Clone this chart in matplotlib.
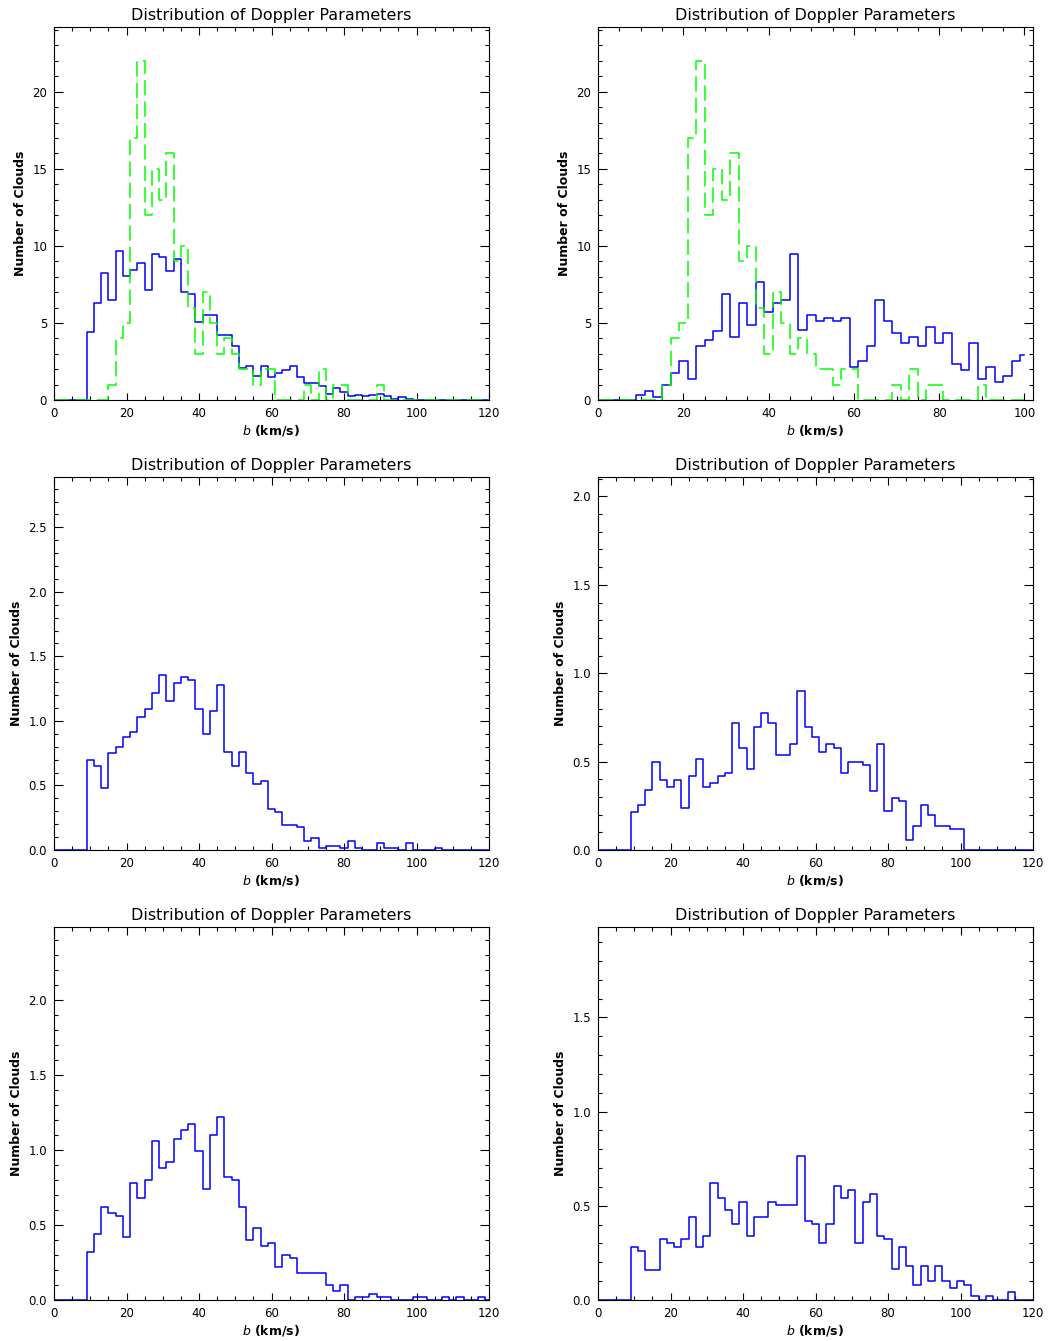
import matplotlib
matplotlib.use("Agg")
import matplotlib.pyplot as plt
import numpy as np
from matplotlib.ticker import MultipleLocator, FormatStrFormatter

# ── Histogram data: bin centres (2 km/s bins) and counts ─────────────
b_wide = np.arange(0, 122, 2)    # 0 .. 120 km/s
b_narrow = np.arange(0, 102, 2)  # 0 .. 100 km/s

# observed sample (dashed green), same in both top panels
obs_counts = [0, 0, 0, 0, 0, 0, 0, 0, 1, 4,
              5, 17, 22, 12, 15, 13, 16, 9, 10, 6,
              3, 7, 5, 3, 4, 3, 2, 2, 1, 2,
              2, 0, 0, 0, 0, 1, 0, 2, 0, 1,
              1, 0, 0, 0, 0, 1, 0, 0, 0, 0,
              0, 0, 0, 0, 0, 0, 0, 0, 0, 0, 0]

# model runs (solid blue)
model_a = [0, 0, 0, 0, 0, 4.44, 6.28, 8.25, 6.52, 9.68,
           8.06, 8.45, 8.88, 7.12, 9.49, 9.27, 8.36, 9.16, 6.99, 6.89,
           5.04, 5.54, 5.54, 4.22, 4.22, 3.51, 2.10, 2.23, 1.54, 2.23,
           1.47, 1.73, 1.93, 2.23, 1.47, 1.10, 1.10, 0.89, 0.39, 0.78,
           0.50, 0.24, 0.31, 0.24, 0.31, 0.39, 0.27, 0.06, 0.20, 0.06,
           0, 0, 0, 0, 0, 0, 0, 0, 0, 0, 0]

model_b = [0, 0, 0, 0, 0, 0.34, 0.56, 0.17, 0.97, 1.75,
           2.53, 1.36, 3.53, 3.92, 4.50, 6.89, 4.11, 6.28, 4.89, 7.67,
           5.69, 6.28, 6.50, 9.44, 4.52, 5.50, 5.11, 5.33, 5.11, 5.33,
           2.12, 2.55, 3.53, 6.50, 5.11, 4.33, 3.72, 4.11, 3.53, 4.72,
           3.72, 4.33, 2.34, 1.95, 3.70, 1.36, 2.14, 1.15, 1.56, 2.55,
           2.94]

model_c = [0, 0, 0, 0, 0, 0.698, 0.653, 0.478, 0.754, 0.795,
           0.873, 0.915, 1.033, 1.095, 1.214, 1.354, 1.155, 1.294, 1.338, 1.315,
           1.095, 0.896, 1.078, 1.276, 0.757, 0.653, 0.757, 0.594, 0.512, 0.537,
           0.318, 0.297, 0.196, 0.196, 0.175, 0.072, 0.093, 0.016, 0.033, 0.033,
           0.016, 0.072, 0.016, 0, 0, 0.054, 0.016, 0.016, 0, 0.054,
           0, 0, 0, 0.016, 0, 0, 0, 0, 0, 0, 0]

model_d = [0, 0, 0, 0, 0, 0.215, 0.256, 0.337, 0.498, 0.398,
           0.357, 0.398, 0.238, 0.417, 0.517, 0.357, 0.377, 0.417, 0.437, 0.717,
           0.577, 0.456, 0.698, 0.777, 0.717, 0.538, 0.538, 0.598, 0.898, 0.698,
           0.637, 0.557, 0.598, 0.579, 0.437, 0.498, 0.498, 0.479, 0.336, 0.598,
           0.218, 0.296, 0.277, 0.057, 0.136, 0.256, 0.196, 0.136, 0.136, 0.117,
           0.117, 0, 0, 0, 0, 0, 0, 0, 0, 0, 0]

model_e = [0, 0, 0, 0, 0, 0.32, 0.44, 0.622, 0.58, 0.56,
           0.42, 0.782, 0.678, 0.80, 1.06, 0.88, 0.92, 1.078, 1.138, 1.178,
           0.998, 0.74, 1.10, 1.22, 0.818, 0.80, 0.62, 0.40, 0.48, 0.36,
           0.382, 0.22, 0.302, 0.28, 0.18, 0.18, 0.18, 0.18, 0.10, 0.06,
           0.10, 0, 0.02, 0.02, 0.04, 0.02, 0.02, 0, 0, 0,
           0.02, 0.02, 0, 0, 0.02, 0, 0.02, 0, 0, 0.02, 0]

model_f = [0, 0, 0, 0, 0, 0.280, 0.261, 0.161, 0.161, 0.323,
           0.301, 0.282, 0.323, 0.441, 0.280, 0.340, 0.621, 0.541, 0.480, 0.401,
           0.521, 0.340, 0.441, 0.441, 0.521, 0.502, 0.502, 0.502, 0.762, 0.422,
           0.401, 0.301, 0.401, 0.603, 0.541, 0.582, 0.301, 0.521, 0.562, 0.342,
           0.323, 0.163, 0.280, 0.181, 0.081, 0.181, 0.101, 0.181, 0.101, 0.062,
           0.101, 0.080, 0.021, 0, 0.021, 0, 0, 0.041, 0, 0, 0]

TITLE = "Distribution of Doppler Parameters"
XLABEL = r"$\it{b}$ (km/s)"
YLABEL = "Number of Clouds"

BLUE = "#0000ff"
GREEN = "#00ff00"

W, H = 1050, 1341
fig = plt.figure(figsize=(W / 100, H / 100), dpi=100)
plt.rcParams["font.family"] = ["DejaVu Sans"]


def make_axes(left, top):
    width, height = 435, 373
    return fig.add_axes([left / W, 1 - (top + height) / H, width / W, height / H])


def style(ax, xmax, ymax, ymajor, yminor, yfmt):
    ax.set_xlim(0, xmax)
    ax.set_ylim(0, ymax)
    ax.xaxis.set_major_locator(MultipleLocator(20))
    ax.xaxis.set_minor_locator(MultipleLocator(5))
    ax.yaxis.set_major_locator(MultipleLocator(ymajor))
    ax.yaxis.set_minor_locator(MultipleLocator(yminor))
    ax.yaxis.set_major_formatter(FormatStrFormatter(yfmt))
    ax.tick_params(which="both", direction="in", top=True, right=True,
                   width=0.8, labelsize=8.5)
    ax.tick_params(axis="x", which="major", length=5.4, pad=5)
    ax.tick_params(axis="x", which="minor", length=2.7)
    ax.tick_params(axis="y", which="major", length=6.3, pad=5)
    ax.tick_params(axis="y", which="minor", length=3.1)
    for sp in ax.spines.values():
        sp.set_linewidth(0.8)
    ax.set_title(TITLE, fontsize=11.5, pad=5)
    ax.set_xlabel(XLABEL, fontsize=9, fontweight="bold", labelpad=2)
    ax.set_ylabel(YLABEL, fontsize=9, fontweight="bold", labelpad=4)


# ── Top row: observed vs. model ─────────────────────────────────────
ax = make_axes(54, 27)
ax.step(b_wide, model_a, where="mid", color=BLUE, lw=1.1)
ax.step(b_wide, obs_counts, where="mid", color=GREEN, lw=1.1, dashes=(10, 4))
style(ax, 120, 24.2, 5, 1, "%d")

ax = make_axes(598, 27)
ax.step(b_narrow, model_b, where="mid", color=BLUE, lw=1.1)
ax.step(b_narrow, obs_counts[:len(b_narrow)], where="mid", color=GREEN, lw=1.1,
        dashes=(10, 4))
style(ax, 102, 24.2, 5, 1, "%d")

# ── Middle row ──────────────────────────────────────────────────────
ax = make_axes(54, 477)
ax.step(b_wide, model_c, where="mid", color=BLUE, lw=1.1)
style(ax, 120, 2.89, 0.5, 0.1, "%.1f")

ax = make_axes(598, 477)
ax.step(b_wide, model_d, where="mid", color=BLUE, lw=1.1)
style(ax, 120, 2.11, 0.5, 0.1, "%.1f")

# ── Bottom row ──────────────────────────────────────────────────────
ax = make_axes(54, 927)
ax.step(b_wide, model_e, where="mid", color=BLUE, lw=1.1)
style(ax, 120, 2.49, 0.5, 0.1, "%.1f")

ax = make_axes(598, 927)
ax.step(b_wide, model_f, where="mid", color=BLUE, lw=1.1)
style(ax, 120, 1.98, 0.5, 0.1, "%.1f")

fig.savefig("out.png", dpi=100)
